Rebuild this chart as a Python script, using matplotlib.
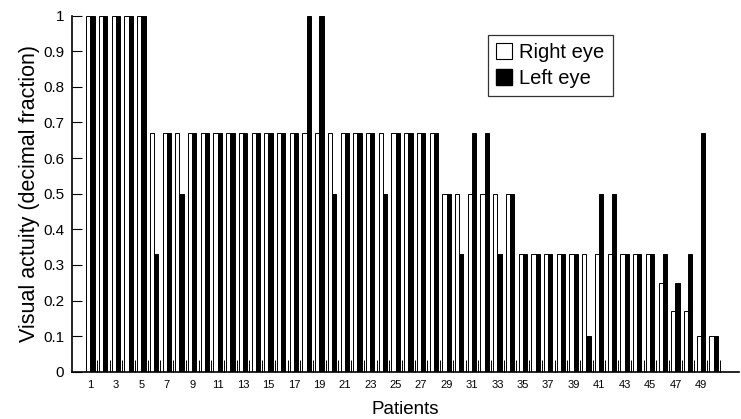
import matplotlib
matplotlib.use("Agg")
import matplotlib.pyplot as plt
import numpy as np
from matplotlib.patches import Patch

plt.rcParams['font.family'] = ['Liberation Sans', 'DejaVu Sans']

patients = list(range(1, 51))
right_eye = [1, 1, 1, 1, 1,
             0.67, 0.67, 0.67, 0.67, 0.67, 0.67, 0.67, 0.67, 0.67, 0.67,
             0.67, 0.67, 0.67, 0.67, 0.67, 0.67, 0.67, 0.67, 0.67, 0.67,
             0.67, 0.67, 0.67, 0.5, 0.5, 0.5, 0.5, 0.5, 0.5, 0.33,
             0.33, 0.33, 0.33, 0.33, 0.33, 0.33, 0.33, 0.33, 0.33, 0.33,
             0.25, 0.17, 0.17, 0.1, 0.1]
left_eye = [1, 1, 1, 1, 1,
            0.33, 0.67, 0.5, 0.67, 0.67, 0.67, 0.67, 0.67, 0.67, 0.67,
            0.67, 0.67, 1, 1, 0.5, 0.67, 0.67, 0.67, 0.5, 0.67,
            0.67, 0.67, 0.67, 0.5, 0.33, 0.67, 0.67, 0.33, 0.5, 0.33,
            0.33, 0.33, 0.33, 0.33, 0.1, 0.5, 0.5, 0.33, 0.33, 0.33,
            0.33, 0.25, 0.33, 0.67, 0.1]
xtick_labels = [str(p) for p in range(1, 50, 2)]
ytick_values = [0, 0.1, 0.2, 0.3, 0.4, 0.5, 0.6, 0.7, 0.8, 0.9, 1]
ytick_labels = ["0", "0.1", "0.2", "0.3", "0.4", "0.5", "0.6", "0.7", "0.8", "0.9", "1"]

fig = plt.figure(figsize=(7.41, 4.19), dpi=100)
ax = fig.add_axes([72/741, 1 - 371.7/419, (739-72)/741, (371.7-15.7)/419])

x = np.array(patients, dtype=float)
w = 0.33
ax.bar(x - w/2, right_eye, width=w, color='white', edgecolor='black', linewidth=0.7)
ax.bar(x + w/2, left_eye, width=w, color='black', edgecolor='black', linewidth=0.7)

ax.set_xlim(-0.45, 52.0)
ax.set_ylim(0, 1)

ax.spines['top'].set_visible(False)
ax.spines['right'].set_visible(False)
ax.spines['left'].set_linewidth(1.2)
ax.spines['bottom'].set_linewidth(1.2)

ax.set_yticks(ytick_values)
ax.set_yticklabels(ytick_labels, fontsize=11)
ax.tick_params(axis='y', direction='in', length=7.5, width=0.8, pad=5.5)

ax.set_xticks(list(range(1, 50, 2)))
ax.set_xticklabels(xtick_labels, fontsize=8)
ax.set_xticks(np.arange(1.5, 51, 1.0), minor=True)
ax.tick_params(axis='x', which='major', length=0, pad=6)
ax.tick_params(axis='x', which='minor', direction='in', length=8.5, width=0.7)

ax.set_xlabel("Patients", fontsize=13.5, labelpad=8)
ax.set_ylabel("Visual actuity (decimal fraction)", fontsize=15.5, labelpad=2)

handles = [Patch(facecolor='white', edgecolor='black', linewidth=0.8, label='Right eye'),
           Patch(facecolor='black', edgecolor='black', label='Left eye')]
leg = ax.legend(handles=handles, loc='upper left', bbox_to_anchor=((488-72)/667, 1 - (35-15.7)/356),
                fontsize=14.5, frameon=True, fancybox=False, edgecolor='black',
                handlelength=0.8, handleheight=0.8, handletextpad=0.35,
                borderpad=0.4, labelspacing=0.35, borderaxespad=0)
leg.get_frame().set_linewidth(0.9)

fig.savefig("out.png", dpi=100)
